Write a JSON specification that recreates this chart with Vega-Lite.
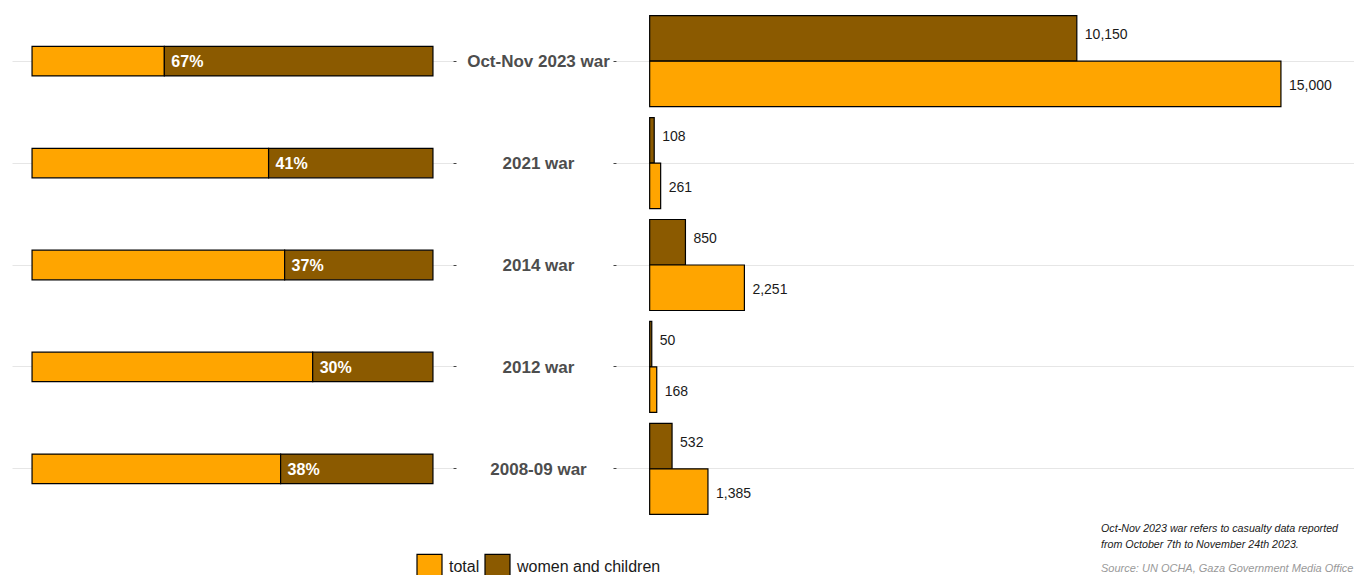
{
  "$schema": "https://vega.github.io/schema/vega-lite/v6.json",
  "padding": {"left": 12, "top": 0, "right": 0, "bottom": 0},
  "autosize": {"type": "pad"},
  "background": "white",
  "spacing": 9,
  "config": {"view": {"stroke": null}, "font": "Liberation Sans"},
  "datasets": {
    "shares": [
      {"war": "Oct-Nov 2023 war", "total": 0.33, "women and children": 0.67, "label": "67%"},
      {"war": "2021 war", "total": 0.59, "women and children": 0.41, "label": "41%"},
      {"war": "2014 war", "total": 0.63, "women and children": 0.37, "label": "37%"},
      {"war": "2012 war", "total": 0.70, "women and children": 0.30, "label": "30%"},
      {"war": "2008-09 war", "total": 0.62, "women and children": 0.38, "label": "38%"}
    ],
    "counts": [
      {"war": "Oct-Nov 2023 war", "type": "women and children", "value": 10150},
      {"war": "Oct-Nov 2023 war", "type": "total", "value": 15000},
      {"war": "2021 war", "type": "women and children", "value": 108},
      {"war": "2021 war", "type": "total", "value": 261},
      {"war": "2014 war", "type": "women and children", "value": 850},
      {"war": "2014 war", "type": "total", "value": 2251},
      {"war": "2012 war", "type": "women and children", "value": 50},
      {"war": "2012 war", "type": "total", "value": 168},
      {"war": "2008-09 war", "type": "women and children", "value": 532},
      {"war": "2008-09 war", "type": "total", "value": 1385}
    ]
  },
  "hconcat": [
    {
      "width": 441,
      "height": 530,
      "data": {"name": "shares"},
      "encoding": {
        "y": {
          "field": "war", "type": "nominal",
          "sort": ["Oct-Nov 2023 war", "2021 war", "2014 war", "2012 war", "2008-09 war"],
          "scale": {"paddingInner": 0, "paddingOuter": 0.1},
          "axis": {"orient": "right", "labels": false, "title": null, "domain": false, "ticks": true, "tickSize": 3, "tickColor": "#444444", "grid": true, "gridColor": "#e6e6e6", "bandPosition": 0.5, "minExtent": 3, "maxExtent": 3}
        }
      },
      "layer": [
        {
          "transform": [{"fold": ["total", "women and children"], "as": ["type", "share"]}],
          "mark": {"type": "bar", "height": {"band": 0.29}, "stroke": "black", "strokeWidth": 1.2},
          "encoding": {
            "x": {"field": "share", "type": "quantitative", "stack": "zero", "scale": {"domain": [-0.05, 1.05], "nice": false, "zero": false}, "axis": null},
            "color": {
              "field": "type", "type": "nominal",
              "scale": {"domain": ["total", "women and children"], "range": ["#FFA500", "#8B5A00"]},
              "legend": {"orient": "none", "legendX": 404, "legendY": 553, "direction": "horizontal", "title": null, "symbolType": "square", "symbolSize": 625, "symbolStrokeColor": "black", "symbolStrokeWidth": 1.2, "symbolOpacity": 1, "labelFontSize": 16, "labelFont": "Liberation Sans", "labelColor": "#1a1a1a", "labelOffset": 6, "columnPadding": 2, "padding": 0}
            },
            "order": {"field": "type", "sort": "ascending"}
          }
        },
        {
          "mark": {"type": "text", "align": "left", "baseline": "middle", "dx": 7, "dy": 1, "color": "white", "fontWeight": "bold", "fontSize": 16},
          "encoding": {
            "x": {"field": "total", "type": "quantitative"},
            "text": {"field": "label", "type": "nominal"}
          }
        }
      ]
    },
    {
      "width": 739,
      "height": 530,
      "data": {"name": "counts"},
      "title": {
        "text": ["Oct-Nov 2023 war refers to casualty data reported", "from October 7th to November 24th 2023."],
        "subtitle": "Source: UN OCHA, Gaza Government Media Office",
        "orient": "bottom", "anchor": "start", "frame": "group", "align": "left",
        "dx": 485, "offset": -6,
        "font": "Liberation Sans", "fontSize": 10.7, "fontStyle": "italic", "fontWeight": "normal", "color": "#1a1a1a", "lineHeight": 16,
        "subtitleFont": "Liberation Sans", "subtitleFontSize": 11, "subtitleFontStyle": "italic", "subtitleColor": "#999999", "subtitlePadding": 12
      },
      "encoding": {
        "y": {
          "field": "war", "type": "nominal",
          "sort": ["Oct-Nov 2023 war", "2021 war", "2014 war", "2012 war", "2008-09 war"],
          "scale": {"paddingInner": 0, "paddingOuter": 0.1},
          "axis": {"orient": "left", "title": null, "domain": false, "ticks": true, "tickSize": 3, "tickColor": "#444444", "labelFont": "Liberation Sans", "labelFontSize": 17, "labelFontWeight": "bold", "labelColor": "#4d4d4d", "labelAlign": "center", "labelPadding": 75, "labelBaseline": "middle", "labelOffset": 1, "grid": true, "gridColor": "#e6e6e6", "bandPosition": 0.5, "minExtent": 150, "maxExtent": 150}
        },
        "yOffset": {"field": "type", "type": "nominal", "sort": ["women and children", "total"], "scale": {"paddingInner": 0, "paddingOuter": 0.12}}
      },
      "layer": [
        {
          "mark": {"type": "bar", "stroke": "black", "strokeWidth": 1.2},
          "encoding": {
            "x": {"field": "value", "type": "quantitative", "scale": {"domain": [-800, 16760], "nice": false, "zero": false}, "axis": null},
            "color": {
              "field": "type", "type": "nominal",
              "scale": {"domain": ["total", "women and children"], "range": ["#FFA500", "#8B5A00"]},
              "legend": {"orient": "none", "legendX": 404, "legendY": 553, "direction": "horizontal", "title": null, "symbolType": "square", "symbolSize": 625, "symbolStrokeColor": "black", "symbolStrokeWidth": 1.2, "symbolOpacity": 1, "labelFontSize": 16, "labelFont": "Liberation Sans", "labelColor": "#1a1a1a", "labelOffset": 6, "columnPadding": 2, "padding": 0}
            }
          }
        },
        {
          "transform": [{"filter": {"field": "type", "equal": "women and children"}}],
          "mark": {"type": "text", "align": "left", "baseline": "middle", "dx": 8, "dy": -3, "fontSize": 14, "color": "#1a1a1a"},
          "encoding": {
            "x": {"field": "value", "type": "quantitative"},
            "text": {"field": "value", "type": "quantitative", "format": ","}
          }
        },
        {
          "transform": [{"filter": {"field": "type", "equal": "total"}}],
          "mark": {"type": "text", "align": "left", "baseline": "middle", "dx": 8, "dy": 2, "fontSize": 14, "color": "#1a1a1a"},
          "encoding": {
            "x": {"field": "value", "type": "quantitative"},
            "text": {"field": "value", "type": "quantitative", "format": ","}
          }
        }
      ]
    }
  ]
}
